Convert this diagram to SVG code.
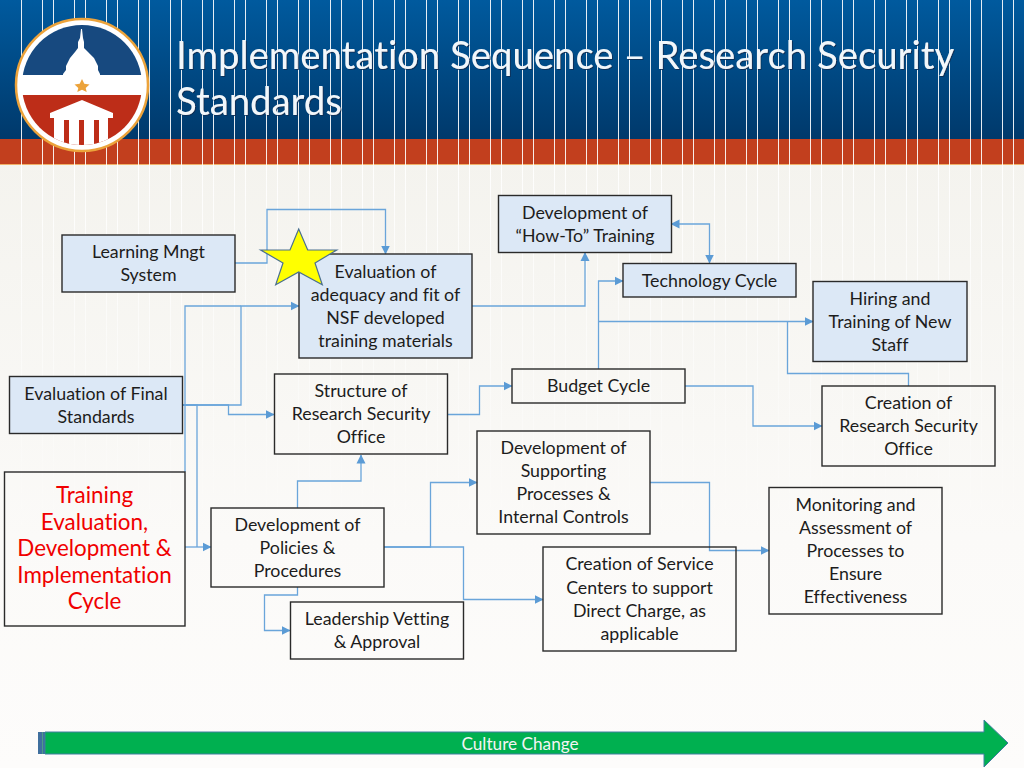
<svg xmlns="http://www.w3.org/2000/svg" width="1024" height="768" viewBox="0 0 1024 768">
<style>
text{font-variant-ligatures:none}
.t{font-family:"Lato","Carlito","Liberation Sans",sans-serif;font-size:17.800px;fill:#1c1c1c;text-anchor:middle}
.b{fill:#dce8f6;stroke:#2a2a2a;stroke-width:1.4}
.w{fill:none;stroke:#2a2a2a;stroke-width:1.4}
.c{fill:none;stroke:#6aa5da;stroke-width:1.3}
.h{font-family:"Lato","Carlito","Liberation Sans",sans-serif;font-size:38.350px;fill:#f2f7fb}
.r{font-family:"Lato","Carlito","Liberation Sans",sans-serif;font-size:22.400px;fill:#f00000;text-anchor:middle}
</style>
<defs>
<linearGradient id="hd" x1="0" y1="0" x2="0" y2="1"><stop offset="0" stop-color="#005a9e"/><stop offset="1" stop-color="#00396b"/></linearGradient>
<linearGradient id="bg" x1="0" y1="0" x2="0" y2="1"><stop offset="0.2" stop-color="#f4f3ee"/><stop offset="0.7" stop-color="#fbfaf8"/><stop offset="1" stop-color="#fdfcfb"/></linearGradient>
<linearGradient id="fade" gradientUnits="userSpaceOnUse" x1="0" y1="164" x2="0" y2="540"><stop offset="0" stop-color="#fff"/><stop offset="1" stop-color="#000"/></linearGradient>
<mask id="fm" maskUnits="userSpaceOnUse" x="0" y="164" width="1024" height="400"><rect y="164" width="1024" height="400" fill="url(#fade)"/></mask>
<pattern id="st" width="32" height="768" patternUnits="userSpaceOnUse"><rect x="10" width="1" height="768" fill="#fff"/><rect x="21" width="1" height="768" fill="#fff"/></pattern>
<marker id="a" markerWidth="9" markerHeight="10" refX="8.500" refY="5" orient="auto-start-reverse" markerUnits="userSpaceOnUse"><path d="M0,0.500L9,5L0,9.500Z" fill="#5b9bd5"/></marker>
<filter id="ghost" x="-5%" y="-20%" width="110%" height="140%"><feDropShadow dx="1" dy="1" stdDeviation="0.4" flood-color="#0c2f52" flood-opacity="0.9"/></filter>
<clipPath id="lc"><circle cx="82" cy="85" r="60"/></clipPath>
</defs>
<rect id="page" width="1024" height="768" fill="url(#bg)"/>
<rect x="16" y="164" width="1008" height="400" fill="url(#st)" opacity="0.9" mask="url(#fm)"/>
<rect width="1024" height="139" fill="url(#hd)"/>
<rect y="139" width="1024" height="25" fill="#c23f1e"/>
<rect y="164" width="1024" height="1" fill="#f0b068"/>
<rect x="16" width="1008" height="165" fill="url(#st)" opacity="0.9"/>
<g id="logo">
<circle cx="82" cy="85" r="66" fill="#fff" stroke="#eca33b" stroke-width="2.500"/>
<g clip-path="url(#lc)">
<rect x="20" y="24" width="124" height="51" fill="#17497f"/>
<rect x="20" y="95" width="124" height="52" fill="#bd2d18"/>
<path d="M63,74L66,70L66,66L70,58L75,52L78,48V42L80,38L81,29H82L83,38L84,42V48L88,52L94,58L98,66V70L100,74V75H63Z" fill="#fff"/>
<path d="M50,113L82,100L113,113V118H108V146H54V118H50Z" fill="#fff"/>
<rect x="64" y="120" width="5" height="25" fill="#bd2d18"/><rect x="79" y="120" width="5" height="26" fill="#bd2d18"/><rect x="94" y="120" width="5" height="25" fill="#bd2d18"/>
</g>
<path d="M82,79L84.300,83.800L89.500,84.500L85.700,88L86.700,92L82,89.800L77.300,92L78.300,88L74.500,84.500L79.700,83.800Z" fill="#eca33b"/>
</g>
<g id="title" filter="url(#ghost)">
<text class="h" x="176" y="69">Implementation Sequence – Research Security</text>
<text class="h" x="176" y="115">Standards</text>
</g>
<g id="connectors">
<path class="c" marker-end="url(#a)" d="M235,263H267V209.500H385.500V254"/>
<path class="c" marker-end="url(#a)" d="M182,405H241V306H299"/>
<path class="c" d="M185,472V306H241"/>
<path class="c" marker-end="url(#a)" d="M182,405H228.500V414.500H274"/>
<path class="c" d="M182,405H197V547"/>
<path class="c" marker-end="url(#a)" d="M185,547H211"/>
<path class="c" marker-start="url(#a)" marker-end="url(#a)" d="M671,224H709.500V263"/>
<path class="c" marker-end="url(#a)" d="M472,306H585V252.500"/>
<path class="c" marker-end="url(#a)" d="M598.500,369V281H623"/>
<path class="c" marker-end="url(#a)" d="M598.500,321.500H813"/>
<path class="c" d="M908.500,386V373.500H787.500V321.500"/>
<path class="c" marker-end="url(#a)" d="M685,386H753V426H822"/>
<path class="c" marker-end="url(#a)" d="M447.500,414.500H479.500V386H512"/>
<path class="c" marker-end="url(#a)" d="M297.500,508V481H361V455"/>
<path class="c" marker-end="url(#a)" d="M384,547H430.500V482.500H477"/>
<path class="c" marker-end="url(#a)" d="M384,547H463.500V599.500H543"/>
<path class="c" marker-end="url(#a)" d="M650,482.500H709.500V550.500H769"/>
<path class="c" marker-end="url(#a)" d="M297.500,587V595H264.500V630.500H290"/>
</g>
<g id="n-lms"><rect class="b" x="62" y="235" width="173" height="57"/><text class="t" x="148.500" y="258">Learning Mngt</text><text class="t" x="148.500" y="281">System</text></g>
<g id="n-eval"><rect class="b" x="299" y="254" width="173" height="104"/><text class="t" x="385.500" y="277.500">Evaluation of</text><text class="t" x="385.500" y="300.500">adequacy and fit of</text><text class="t" x="385.500" y="323.500">NSF developed</text><text class="t" x="385.500" y="346.500">training materials</text></g>
<g id="n-howto"><rect class="b" x="498.500" y="195.500" width="173" height="57"/><text class="t" x="585" y="218.500">Development of</text><text class="t" x="585" y="241.500">“How-To” Training</text></g>
<g id="n-tech"><rect class="b" x="623" y="263.500" width="173" height="33.500"/><text class="t" x="709.500" y="286.500">Technology Cycle</text></g>
<g id="n-hiring"><rect class="b" x="813" y="281.500" width="154" height="80"/><text class="t" x="890" y="304.500">Hiring and</text><text class="t" x="890" y="327.500">Training of New</text><text class="t" x="890" y="350.500">Staff</text></g>
<g id="n-creation"><rect class="w" x="822" y="386" width="173" height="80"/><text class="t" x="908.500" y="409">Creation of</text><text class="t" x="908.500" y="432">Research Security</text><text class="t" x="908.500" y="455">Office</text></g>
<g id="n-budget"><rect class="w" x="512" y="369" width="173" height="34"/><text class="t" x="598.500" y="392">Budget Cycle</text></g>
<g id="n-structure"><rect class="w" x="274.500" y="374" width="173" height="80"/><text class="t" x="361" y="397">Structure of</text><text class="t" x="361" y="420">Research Security</text><text class="t" x="361" y="443">Office</text></g>
<g id="n-final"><rect class="b" x="9.500" y="376.500" width="173" height="57"/><text class="t" x="96" y="399.500">Evaluation of Final</text><text class="t" x="96" y="422.500">Standards</text></g>
<g id="n-training"><rect class="w" x="4.500" y="472" width="180.500" height="154"/><text class="r" x="94.500" y="503">Training</text><text class="r" x="94.500" y="529.500">Evaluation,</text><text class="r" x="94.500" y="556">Development &amp;</text><text class="r" x="94.500" y="582.500">Implementation</text><text class="r" x="94.500" y="609">Cycle</text></g>
<g id="n-policies"><rect class="w" x="211" y="508" width="173" height="79"/><text class="t" x="297.500" y="531">Development of</text><text class="t" x="297.500" y="554">Policies &amp;</text><text class="t" x="297.500" y="577">Procedures</text></g>
<g id="n-support"><rect class="w" x="477" y="431" width="173" height="103"/><text class="t" x="563.500" y="454">Development of</text><text class="t" x="563.500" y="477">Supporting</text><text class="t" x="563.500" y="500">Processes &amp;</text><text class="t" x="563.500" y="523">Internal Controls</text></g>
<g id="n-service"><rect class="w" x="543" y="547" width="193" height="104"/><text class="t" x="639.500" y="570">Creation of Service</text><text class="t" x="639.500" y="594">Centers to support</text><text class="t" x="639.500" y="617">Direct Charge, as</text><text class="t" x="639.500" y="640">applicable</text></g>
<g id="n-monitoring"><rect class="w" x="769" y="487.500" width="173" height="126.500"/><text class="t" x="855.500" y="511">Monitoring and</text><text class="t" x="855.500" y="534">Assessment of</text><text class="t" x="855.500" y="557">Processes to</text><text class="t" x="855.500" y="580">Ensure</text><text class="t" x="855.500" y="603">Effectiveness</text></g>
<g id="n-leadership"><rect class="w" x="290.500" y="602" width="173" height="57"/><text class="t" x="377" y="625">Leadership Vetting</text><text class="t" x="377" y="648">&amp; Approval</text></g>
<polygon id="star" points="298.700,229 307.700,250 336.700,250 315,263 322.300,284.700 298.700,272 275.700,284.700 283,263 260.700,250 290,250" fill="#ffff00" stroke="#4a7090" stroke-width="1.200"/>
<g id="culture">
<rect x="38" y="732" width="8" height="22" fill="#3f6f9e"/>
<rect x="42" y="732" width="1" height="22" fill="#4f9a88"/>
<path d="M45,732H984V720L1008,743L984,767V754H45Z" fill="#00b050" stroke="#3f7f9e" stroke-width="1"/>
<text x="520" y="749.500" font-family="Lato,Carlito,'Liberation Sans',sans-serif" font-size="17.200px" fill="#f4f4f4" text-anchor="middle">Culture Change</text>
</g>
</svg>
